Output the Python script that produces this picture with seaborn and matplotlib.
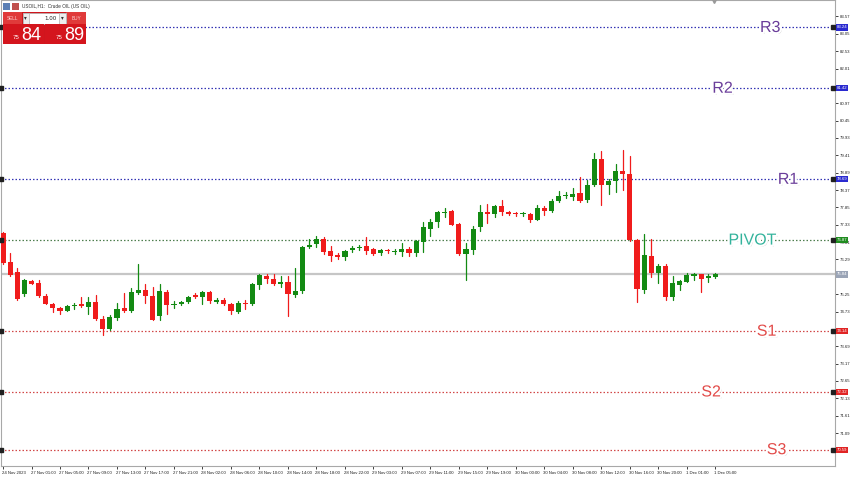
import numpy as np
import pandas as pd
import matplotlib
matplotlib.use("Agg")
import matplotlib.pyplot as plt
import matplotlib.patheffects as pe
import matplotlib.transforms as mtransforms
from matplotlib.patches import Rectangle
import seaborn as sns

# ---------------- data ----------------
open_ = [77.07, 76.20, 75.90, 75.24, 75.65, 75.57, 75.20, 74.97, 74.85, 74.75,
         74.89, 74.96, 74.87, 75.01, 74.50, 74.20, 74.55, 74.84, 74.74, 75.29,
         75.37, 75.20, 74.60, 75.32, 74.92, 74.95, 75.03, 75.21, 75.15, 75.32,
         75.02, 75.09, 74.95, 74.72, 75.00, 74.95, 75.53, 75.80, 75.69, 75.55,
         75.60, 75.22, 75.34, 76.65, 76.74, 76.90, 76.53, 76.41, 76.35, 76.57,
         76.64, 76.70, 76.59, 76.47, 76.56, 76.51, 76.50, 76.61, 76.47, 76.82,
         77.21, 77.41, 77.69, 77.74, 77.34, 76.44, 76.57, 77.25, 77.71, 77.64,
         77.88, 77.71, 77.68, 77.65, 77.66, 77.48, 77.83, 77.74, 78.03, 78.20,
         78.16, 78.27, 78.06, 78.51, 79.31, 78.51, 78.64, 78.93, 78.86, 76.86,
         75.37, 76.40, 75.87, 76.10, 75.15, 75.52, 75.62, 75.79, 75.84, 75.74,
         75.77]
high = [77.12, 76.48, 76.02, 75.70, 75.67, 75.67, 75.25, 75.00, 74.87, 74.92,
        74.98, 75.17, 75.17, 75.23, 74.59, 74.62, 74.99, 75.27, 75.42, 76.15,
        75.55, 75.45, 75.55, 75.37, 75.06, 75.06, 75.20, 75.27, 75.35, 75.35,
        75.12, 75.12, 75.00, 75.05, 75.08, 75.59, 75.86, 75.86, 75.85, 75.78,
        75.78, 76.02, 76.70, 76.89, 76.99, 76.96, 76.70, 76.47, 76.57, 76.68,
        76.73, 76.95, 76.62, 76.60, 76.60, 76.60, 76.77, 76.65, 76.88, 77.40,
        77.50, 77.73, 77.82, 77.78, 77.37, 76.78, 77.30, 77.91, 77.94, 77.92,
        78.06, 77.73, 77.72, 77.72, 77.67, 77.93, 77.90, 78.11, 78.33, 78.30,
        78.42, 78.76, 78.66, 79.49, 79.54, 78.71, 79.14, 79.56, 79.38, 76.90,
        77.04, 76.89, 76.15, 76.14, 75.79, 75.68, 75.87, 75.89, 75.86, 75.86,
        75.87]
low = [76.15, 75.79, 75.07, 75.19, 75.54, 75.15, 74.95, 74.72, 74.67, 74.74,
       74.81, 74.86, 74.65, 74.48, 74.04, 74.17, 74.47, 74.71, 74.71, 75.26,
       74.99, 74.47, 74.49, 74.65, 74.83, 74.93, 74.99, 75.12, 74.95, 74.99,
       74.99, 74.92, 74.67, 74.69, 74.80, 74.93, 75.41, 75.57, 75.52, 75.47,
       74.59, 75.15, 75.29, 76.62, 76.67, 76.45, 76.24, 76.30, 76.27, 76.52,
       76.56, 76.45, 76.41, 76.41, 76.48, 76.44, 76.40, 76.40, 76.39, 76.51,
       76.98, 77.26, 77.55, 77.31, 76.41, 75.67, 76.46, 77.13, 77.39, 77.56,
       77.63, 77.62, 77.60, 77.58, 77.41, 77.46, 77.63, 77.70, 78.00, 78.12,
       78.08, 78.00, 78.01, 78.48, 77.91, 78.26, 78.31, 78.38, 76.83, 75.02,
       75.29, 75.77, 75.57, 75.07, 75.07, 75.38, 75.61, 75.67, 75.32, 75.61,
       75.74]
close = [76.18, 75.82, 75.10, 75.67, 75.55, 75.19, 74.97, 74.85, 74.74, 74.89,
         74.94, 74.89, 75.01, 74.50, 74.20, 74.57, 74.82, 74.74, 75.30, 75.37,
         75.19, 74.49, 75.34, 74.92, 74.97, 75.02, 75.17, 75.15, 75.32, 75.04,
         75.09, 74.95, 74.75, 75.00, 74.95, 75.55, 75.82, 75.69, 75.55, 75.62,
         75.24, 75.35, 76.65, 76.73, 76.89, 76.52, 76.40, 76.35, 76.54, 76.63,
         76.65, 76.54, 76.45, 76.56, 76.53, 76.52, 76.59, 76.47, 76.84, 77.25,
         77.41, 77.70, 77.72, 77.33, 76.44, 76.59, 77.19, 77.70, 77.66, 77.88,
         77.71, 77.66, 77.65, 77.66, 77.48, 77.83, 77.74, 78.03, 78.19, 78.21,
         78.26, 78.04, 78.51, 79.31, 78.51, 78.64, 78.93, 78.86, 76.86, 75.39,
         76.41, 75.87, 76.10, 75.17, 75.59, 75.63, 75.82, 75.84, 75.70, 75.80,
         75.84]

time_labels = ["24 Nov 2023", "27 Nov 01:00", "27 Nov 05:00", "27 Nov 09:00",
               "27 Nov 13:00", "27 Nov 17:00", "27 Nov 21:00", "28 Nov 02:00",
               "28 Nov 06:00", "28 Nov 10:00", "28 Nov 14:00", "28 Nov 18:00",
               "28 Nov 22:00", "29 Nov 03:00", "29 Nov 07:00", "29 Nov 11:00",
               "29 Nov 15:00", "29 Nov 19:00", "30 Nov 00:00", "30 Nov 04:00",
               "30 Nov 08:00", "30 Nov 12:00", "30 Nov 16:00", "30 Nov 20:00",
               "1 Dec 01:00", "1 Dec 05:00"]

price_ticks = [83.57, 83.05, 82.53, 82.01, 81.49, 80.97, 80.45, 79.93, 79.41,
               78.89, 78.37, 77.85, 77.33, 76.81, 76.29, 75.77, 75.25, 74.73,
               74.21, 73.69, 73.17, 72.65, 72.13, 71.61, 71.09, 70.57]
# tick labels hidden behind the level price boxes in the reference
hidden_ticks = [81.49, 75.77, 74.21, 70.57]

level_names = ["R3", "R2", "R1", "PIVOT", "S1", "S2", "S3"]
level_values = [83.24, 81.42, 78.69, 76.87, 74.14, 72.32, 70.59]
current_price = 75.84
sell_price = "75.84"
buy_price = "75.89"
symbol_title = "USOIL,H1:  Crude OIL (US OIL)"
lot_size = "1.00"

# ---------------- layout / style (not data) ----------------
label_xpos = [107.7, 101.0, 110.2, 105.2, 107.2, 99.4, 108.6]
line_colors = ["#3434b4", "#3434b4", "#3434b4", "#4f7f4f", "#d24848", "#d24848", "#d24848"]
box_colors = ["#2a2ad0", "#2a2ad0", "#2a2ad0", "#1f8c1f", "#e02424", "#e02424", "#e02424"]
text_colors = ["#6a3d9a", "#6a3d9a", "#6a3d9a", "#34b39c", "#e24a48", "#e24a48", "#e24a48"]
UP, DOWN = "#138a13", "#f01c1c"
SMALL = 3.1
SMALL_FONT = "Liberation Sans"

sns.set_theme(style="white")
plt.rcParams["font.family"] = ["DejaVu Sans"]

df = pd.DataFrame({"t": np.arange(len(open_)), "open": open_, "high": high,
                   "low": low, "close": close})
df["dir"] = np.where(df["close"] >= df["open"], "up", "down")

fig = plt.figure(figsize=(8.5, 4.78), dpi=100)
ax = fig.add_axes([0.0012, 0.025, 0.9812, 0.974])

# wicks through seaborn (one unit per bar)
wicks = pd.concat([
    df[["t", "dir"]].assign(price=df["low"]),
    df[["t", "dir"]].assign(price=df["high"]),
]).sort_values("t")
sns.lineplot(data=wicks, x="t", y="price", units="t", estimator=None, hue="dir",
             palette={"up": UP, "down": DOWN}, legend=False, lw=0.9, ax=ax,
             zorder=3)

# bodies
body_lo = df[["open", "close"]].min(axis=1)
body_h = (df["close"] - df["open"]).abs().clip(lower=0.025)
ax.bar(df["t"], body_h, bottom=body_lo, width=0.72,
       color=[UP if d == "up" else DOWN for d in df["dir"]], linewidth=0, zorder=4)

# current price line
ax.axhline(current_price, color="#c6c6c6", lw=1.6, zorder=1)

ax.set_xlim(-0.28, 116.8)
ax.set_ylim(70.10, 84.049)

trans_r = mtransforms.blended_transform_factory(ax.transAxes, ax.transData)
for name, v, xl, lc, bc, tc in zip(level_names, level_values, label_xpos,
                                   line_colors, box_colors, text_colors):
    ax.axhline(v, color=lc, lw=0.9, ls=(0, (1.2, 1.6)), zorder=2)
    ax.plot([0.0, 0.998], [v, v], ls="none", marker="s", ms=2.2, color="#202020",
            transform=trans_r, clip_on=False, zorder=5)
    ax.text(xl, v, name, ha="center", va="center", fontsize=11.5,
            family="Liberation Sans", color=tc, zorder=6,
            path_effects=[pe.SimplePatchShadow(offset=(1.2, -1.2), shadow_rgbFace="#808080", alpha=0.45),
                          pe.Stroke(linewidth=3, foreground="white"), pe.Normal()])
    ax.text(1.002, v, f"{v:.2f}", transform=trans_r, ha="left", va="center",
            fontsize=SMALL, family=SMALL_FONT, color="white", zorder=7, clip_on=False,
            bbox=dict(boxstyle="square,pad=0.25", fc=bc, ec="none"))

ax.text(1.002, current_price, f"{current_price:.2f}", transform=trans_r, ha="left",
        va="center", fontsize=SMALL, family=SMALL_FONT, color="white", zorder=7,
        clip_on=False, bbox=dict(boxstyle="square,pad=0.25", fc="#9aa4b6", ec="none"))

# chart-shift marker
ax.plot([0.855], [1.0], marker="v", ms=4, color="#9a9a9a", transform=ax.transAxes,
        clip_on=False, zorder=8)

# axes styling
ax.yaxis.tick_right()
ax.set_yticks(price_ticks)
ax.set_yticklabels(["" if v in hidden_ticks else f"{v:.2f}" for v in price_ticks],
                   family=SMALL_FONT)
ax.set_xticks(range(0, len(open_), 4))
ax.set_xticklabels(time_labels, ha="left", family=SMALL_FONT)
ax.tick_params(axis="y", right=True, left=False, length=2, width=0.6, pad=1.5,
               labelsize=SMALL, colors="#202020")
ax.tick_params(axis="x", bottom=True, length=2, width=0.6, pad=1.5,
               labelsize=SMALL, colors="#202020")
offset = mtransforms.ScaledTranslation(-1 / 100, 0, fig.dpi_scale_trans)
for lbl in ax.get_xticklabels():
    lbl.set_transform(lbl.get_transform() + offset)
ax.set_xlabel("")
ax.set_ylabel("")
ax.grid(False)
for s in ax.spines.values():
    s.set_color("#a8a8a8")
    s.set_linewidth(0.8)

# ---------------- one-click trading widget (figure decoration) ----------------
W, H = 850.0, 478.0


def frect(x0, y0, x1, y1, **kw):
    fig.add_artist(Rectangle((x0 / W, 1 - y1 / H), (x1 - x0) / W, (y1 - y0) / H,
                             transform=fig.transFigure, **kw))


def ftext(x, y, s, **kw):
    fig.text(x / W, 1 - y / H, s, **kw)


frect(3, 3, 10, 10, fc="#5b7fb5", ec="none")
frect(12, 3, 19, 10, fc="#c0504d", ec="none")
ftext(22, 6.5, symbol_title, fontsize=3.4, family=SMALL_FONT, color="#303030", va="center")
frect(3, 12, 86, 44, fc="#cf161d", ec="none")
frect(3, 12, 22, 24, fc="#e03a3a", ec="none")
ftext(12.5, 18, "SELL", fontsize=3.4, family=SMALL_FONT, color="#ffd6d6", ha="center", va="center")
frect(66, 12, 86, 24, fc="#e03a3a", ec="none")
ftext(76, 18, "BUY", fontsize=3.4, family=SMALL_FONT, color="#ffd6d6", ha="center", va="center")
frect(22.5, 13, 65.5, 23.5, fc="white", ec="#b0b0b0", lw=0.5)
frect(22.5, 13, 29, 23.5, fc="#eeeeee", ec="#b0b0b0", lw=0.5)
frect(59, 13, 65.5, 23.5, fc="#eeeeee", ec="#b0b0b0", lw=0.5)
ftext(25.8, 18, "▾", fontsize=4, color="#303030", ha="center", va="center")
ftext(62.2, 18, "▾", fontsize=4, color="#303030", ha="center", va="center")
ftext(57, 18, lot_size, fontsize=4.0, family="DejaVu Sans", color="#202020", ha="right", va="center")
frect(3, 24.5, 43.8, 44, fc="#d4151d", ec="none")
frect(45.2, 24.5, 86, 44, fc="#d4151d", ec="none")
ftext(20, 37.5, sell_price[:2], fontsize=4.4, family=SMALL_FONT, color="white", ha="right", va="center")
ftext(21.5, 35, sell_price[3:], fontsize=13, family="Liberation Sans",
      color="white", ha="left", va="center")
ftext(63, 37.5, buy_price[:2], fontsize=4.4, family=SMALL_FONT, color="white", ha="right", va="center")
ftext(64.5, 35, buy_price[3:], fontsize=13, family="Liberation Sans",
      color="white", ha="left", va="center")

fig.savefig("out.png", dpi=100)
